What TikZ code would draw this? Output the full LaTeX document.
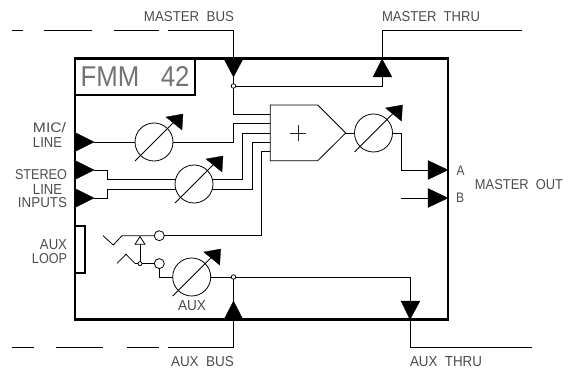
\documentclass[tikz,border=0pt]{standalone}
\usepackage{graphicx}
\usepackage{fontspec}
\setmainfont{Liberation Sans}
\tikzset{
 wire/.style={line width=0.8pt,line join=miter},
 frame/.style={line width=2.3pt,line join=miter,line cap=rect},
 pot/.style={circle,draw,line width=0.8pt,minimum size=38pt,inner sep=0pt,outer sep=0pt},
 jack/.style={circle,draw,line width=0.8pt,minimum size=10pt,inner sep=0pt,outer sep=0pt},
 dot/.style={circle,draw,line width=0.8pt,minimum size=4.5pt,inner sep=0pt,outer sep=0pt,fill=white},
 solidtri/.style={fill=black,draw=black,line width=0.3pt,line join=miter},
 lab/.style={inner sep=0pt,outer sep=0pt,text=black!70},
}
\newcommand\lb[3]{\resizebox{#1pt}{#2pt}{#3}}
\newcommand\potarrow[1]{%
 \draw[wire] ([shift={(-19,19)}]#1.center) -- ([shift={(20,-20)}]#1.center);
 \fill[solidtri] ([shift={(29,-28)}]#1.center) -- ([shift={(12,-25)}]#1.center) -- ([shift={(28,-12)}]#1.center) -- cycle;}
\begin{document}
\begin{tikzpicture}[x=1pt,y=-1pt]
\useasboundingbox (0,0) rectangle (563,369);
% frame
\coordinate (tl) at (75,58.5); \coordinate (br) at (448,319.5);
\draw[frame] (tl) rectangle (br);
\node[lab,draw=black,line width=2pt,text=black!55,minimum width=120pt,minimum height=37pt,anchor=north west] (title) at (75,58.5) {\lb{109}{20}{FMM\ \ \ 42}};
% pots
\node[pot] (p1) at (154,142) {};
\node[pot] (p2) at (194,184) {};
\node[pot] (p3) at (373.5,133) {};
\node[pot] (p4) at (191.7,277) {};
\potarrow{p1}\potarrow{p2}\potarrow{p3}\potarrow{p4}
% summer
\coordinate (s1) at (270.3,105); \coordinate (s2) at (317.7,105);
\coordinate (s3) at (345.7,133); \coordinate (s4) at (317.7,160.7); \coordinate (s5) at (270.3,160.7);
\draw[wire] (s1) -- (s2) -- (s3) -- (s4) -- (s5) -- cycle;
\coordinate (plus) at (298,133);
\draw[wire,black!85] (plus)+(-8,0) -- +(8,0) (plus)+(0,-8) -- +(0,8);
% master bus
\coordinate (mb) at (233.5,30); \coordinate (mbtip) at (233.5,77);
\draw[wire] (12,30) -- (23,30) (44,30) -- (92,30) (114,30) -- (159,30) (168,30) -- (mb) -- (mbtip);
\fill[solidtri] (224,59) -- (243,59) -- (mbtip) -- cycle;
\node[dot] (j1) at (233.5,86) {};
\draw[wire] (mbtip) -- (j1) -- (233.5,114) -- (270.3,114);
\draw[wire] (j1) -- (382,86) -- (382,30) -- (522,30);
\fill[solidtri] (373,77) -- (392,77) -- (382,59) -- cycle;
% inputs
\coordinate (i1) at (94,142); \coordinate (i2) at (94,170); \coordinate (i3) at (94,198);
\fill[solidtri] (75,132.5) -- (i1) -- (75,151.5) -- cycle;
\fill[solidtri] (75,160.5) -- (i2) -- (75,179.5) -- cycle;
\fill[solidtri] (75,188.5) -- (i3) -- (75,207.5) -- cycle;
\draw[wire] (i1) -- (p1.west);
\draw[wire] (p1.east) -- (233.5,142) -- (233.5,123.7) -- (270.3,123.7);
\draw[wire] (i2) -- (107.7,170) -- (107.7,179.3) -- (175.6,179.3);
\draw[wire] (i3) -- (107.7,198) -- (107.7,189) -- (175.6,189);
\draw[wire] (212.4,179.3) -- (242.7,179.3) -- (242.7,133) -- (270.3,133);
\draw[wire] (212.4,189) -- (252,189) -- (252,142) -- (270.3,142);
% aux switch
\node[jack] (k1) at (159.3,235.7) {};
\node[jack] (k2) at (159.3,263.6) {};
\node[dot,minimum size=4pt] (j3) at (140,263.6) {};
\draw[wire] (k1.east) -- (261.7,235.7) -- (261.7,151.7) -- (270.3,151.7);
\draw[wire] (103,235.7) -- (113.3,245) -- (122,235.7) -- (k1.west);
\draw[wire] (117,263.4) -- (126,254.3) -- (135,263.4) -- (j3.west);
\draw[wire] (j3.east) -- (k2.west);
\coordinate (ta) at (140,236.5);
\draw[wire] (ta) -- (145,244.3) -- (135,244.3) -- cycle;
\draw[wire] (140,244.3) -- (j3.north);
\draw[wire] (k2.south) -- (159.3,277) -- (p4.west);
% aux bus
\node[dot] (j2) at (233.5,277) {};
\draw[wire] (p4.east) -- (j2) -- (410,277) -- (410,347) -- (532,347);
\draw[wire] (j2) -- (233.5,347) -- (168,347) (159,347) -- (127,347) (103,347) -- (56,347) (34,347) -- (12,347);
\fill[solidtri] (224,319.5) -- (243,319.5) -- (233.5,301) -- cycle;
\fill[solidtri] (401,301) -- (420,301) -- (410,319.5) -- cycle;
% outputs
\coordinate (oa) at (428,170); \coordinate (ob) at (428,198);
\draw[wire] (p3.west) -- (s3);
\draw[wire] (p3.east) -- (401,133) -- (401,170) -- (oa);
\draw[wire] (401,198) -- (ob);
\fill[solidtri] (428,160.5) -- (448,170) -- (428,179.5) -- cycle;
\fill[solidtri] (428,188.5) -- (448,198) -- (428,207.5) -- cycle;
% aux loop
\draw[line width=2pt] (75,225.7) rectangle (85,273);
% labels
\node[lab,anchor=center] (l1) at (189,17) {\lb{90}{10}{MASTER\ \ BUS}};
\node[lab,anchor=center] (l2) at (431,17) {\lb{98}{10}{MASTER\ \ THRU}};
\node[lab,anchor=center] (l3) at (202.5,362) {\lb{63}{10}{AUX\ \ BUS}};
\node[lab,anchor=center] (l4) at (446,362) {\lb{72}{10}{AUX\ \ THRU}};
\node[lab,anchor=center] (l5) at (460.5,170.5) {\lb{8}{9.5}{A}};
\node[lab,anchor=center] (l6) at (460,198) {\lb{8}{9.5}{B}};
\node[lab,anchor=center] (l7) at (519,185) {\lb{88}{10}{MASTER\ \ OUT}};
\node[lab,anchor=east] (l8) at (66,128) {\lb{33}{10}{MIC/}};
\node[lab,anchor=east] (l9) at (62,142) {\lb{29}{10}{LINE}};
\node[lab,anchor=east] (l10) at (67,175) {\lb{52}{10}{STEREO}};
\node[lab,anchor=east] (l11) at (62,189) {\lb{29}{10}{LINE}};
\node[lab,anchor=east] (l12) at (67,203) {\lb{49}{10}{INPUTS}};
\node[lab,anchor=east] (l13) at (67,245) {\lb{27}{10}{AUX}};
\node[lab,anchor=east] (l14) at (67,259) {\lb{35}{10}{LOOP}};
\node[lab,anchor=center] (l15) at (192,306) {\lb{28}{10}{AUX}};
\end{tikzpicture}
\end{document}
